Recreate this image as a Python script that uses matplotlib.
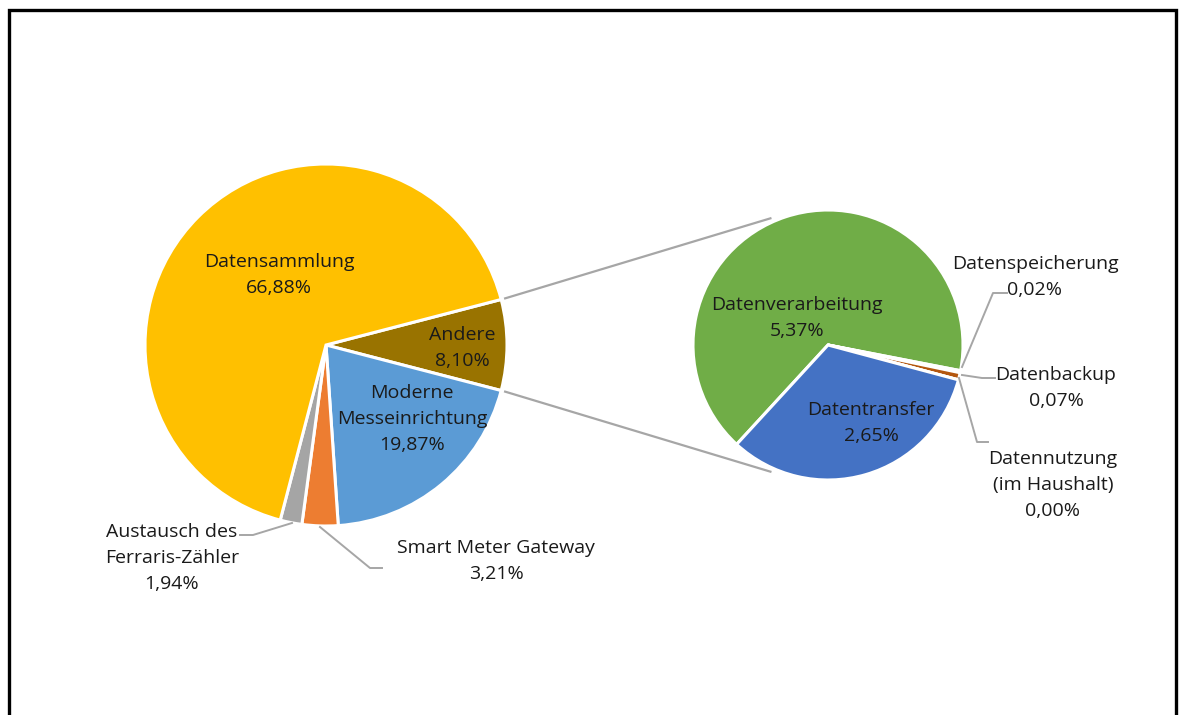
import numpy as np
import matplotlib
matplotlib.use("Agg")
import matplotlib.pyplot as plt

# ---- data ----
main_labels = ["Andere", "Moderne\nMesseinrichtung", "Smart Meter Gateway",
               "Austausch des\nFerraris-Zähler", "Datensammlung"]
main_values = [8.10, 19.87, 3.21, 1.94, 66.88]
main_colors = ["#997300", "#5B9BD5", "#ED7D31", "#A5A5A5", "#FFC000"]

sub_labels = ["Datenverarbeitung", "Datenspeicherung", "Datenbackup",
              "Datennutzung\n(im Haushalt)", "Datentransfer"]
sub_values = [5.37, 0.02, 0.07, 0.00, 2.65]
sub_colors = ["#70AD47", "#264478", "#B4570F", "#636363", "#4472C4"]

W, H = 1179, 715
fig = plt.figure(figsize=(W / 100, H / 100), dpi=100)
ax = fig.add_axes([0, 0, 1, 1])

def Y(y):
    return H - y

FONT = dict(family=["Open Sans", "DejaVu Sans"], fontsize=14, color="#1a1a1a",
            ha="center", va="center", linespacing=1.6)

# main pie
c1 = (326, Y(345)); r1 = 181
start1 = 360 * main_values[0] / 100 / 2
ax.pie(main_values, colors=main_colors, center=c1, radius=r1,
       startangle=start1, counterclock=False, frame=True,
       wedgeprops=dict(edgecolor="white", linewidth=2.2))

# sub pie
c2 = (828, Y(345)); r2 = 135
ax.pie(sub_values, colors=sub_colors, center=c2, radius=r2,
       startangle=-132.6, counterclock=False, frame=True,
       wedgeprops=dict(edgecolor="white", linewidth=2.2))

# connector lines
for sgn in (1, -1):
    a1 = np.deg2rad(sgn * start1)
    p1 = (c1[0] + (r1 + 3) * np.cos(a1), c1[1] + (r1 + 3) * np.sin(a1))
    a2 = np.deg2rad(sgn * 114)
    p2 = (c2[0] + (r2 + 4) * np.cos(a2), c2[1] + (r2 + 4) * np.sin(a2))
    ax.plot([p1[0], p2[0]], [p1[1], p2[1]], color="#A6A6A6", lw=1.6,
            solid_capstyle="butt")

def pct(v):
    return f"{v:.2f}%".replace(".", ",")

# labels on main pie
main_pos = [(462, 348), (412, 419), (496, 561), (172, 558), (279, 275)]
for lab, v, (x, y) in zip(main_labels, main_values, main_pos):
    ax.text(x, Y(y), f"{lab}\n{pct(v)}", **FONT)

sub_pos = [(797, 318), (1035, 277), (1056, 388), (1053, 485), (871, 423)]
for lab, v, (x, y) in zip(sub_labels, sub_values, sub_pos):
    ax.text(x, Y(y), f"{lab}\n{pct(v)}", **FONT)

# leader lines
leaders = [
    [(292, 523), (253, 535), (240, 535)],
    [(320, 527), (370, 568), (382, 568)],
    [(962, 367), (993, 293), (1007, 293)],
    [(962, 375), (982, 378), (995, 378)],
    [(959, 378), (977, 442), (988, 442)],
]
for pts in leaders:
    xs = [p[0] for p in pts]
    ys = [Y(p[1]) for p in pts]
    ax.plot(xs, ys, color="#A6A6A6", lw=1.4)

# frame border
ax.plot([8.5, 8.5, 1175.5, 1175.5], [0, Y(9.5), Y(9.5), 0], color="black",
        lw=2.4, solid_joinstyle="miter")

ax.set_xlim(0, W)
ax.set_ylim(0, H)
ax.set_aspect("auto")
ax.axis("off")
fig.savefig("out.png", dpi=100, facecolor="white")
